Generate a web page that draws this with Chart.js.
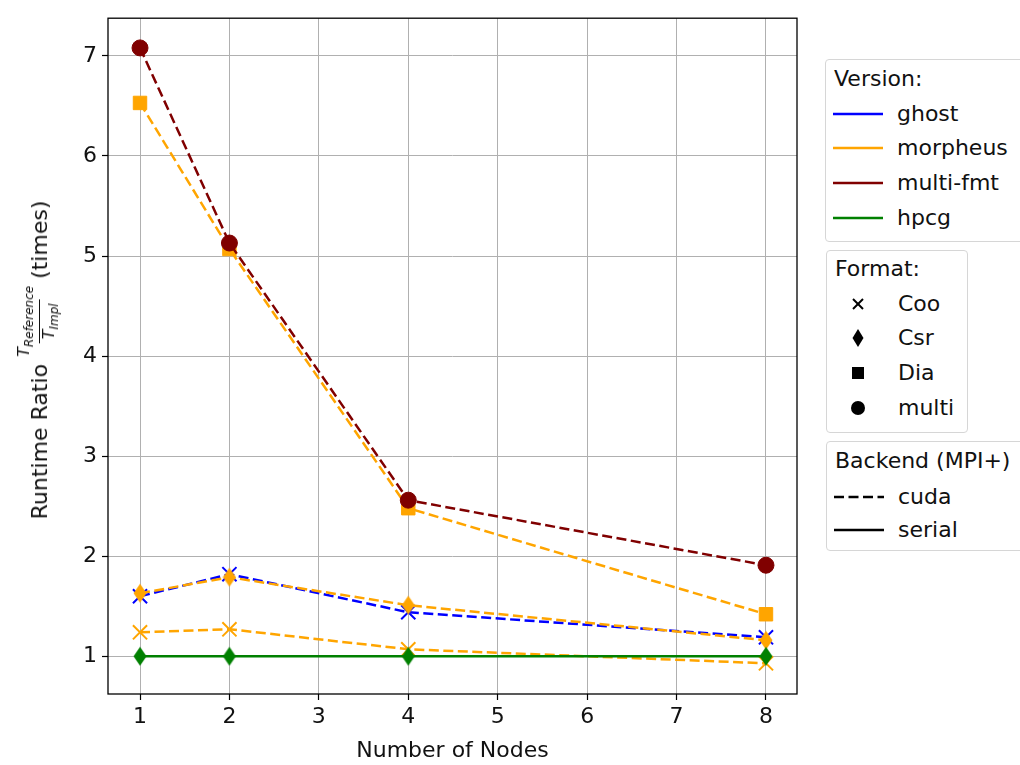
<!DOCTYPE html>
<html>
<head>
<meta charset="utf-8">
<script src="https://cdn.jsdelivr.net/npm/chart.js@4.4.1/dist/chart.umd.min.js"></script>
<style>
body { margin: 0; background: #fff; font-family: "DejaVu Sans", sans-serif; color: #111; }
#wrap { position: relative; width: 1020px; height: 765px; overflow: hidden; }
#chart { position: absolute; left: 0; top: 0; }
#ylabel {
    position: absolute; left: 39px; top: 360px;
    transform: translate(-50%, -50%) rotate(-90deg);
    display: flex; align-items: center; white-space: nowrap;
    font-size: 22px;
}
.frac { display: inline-flex; flex-direction: column; align-items: center; margin: 0 7px; font-style: italic; }
.frac .num { font-size: 16px; line-height: 16px; padding-bottom: 2px; }
.frac .den { font-size: 16px; line-height: 16px; padding-top: 1px; border-top: 1.3px solid #111; padding-left: 4px; padding-right: 4px; }
.frac sub { font-size: 12px; vertical-align: -4px; }
.box { position: absolute; border: 1px solid #d6d6d6; border-radius: 4px; background: #fff; }
.row { position: absolute; height: 26px; line-height: 26px; font-size: 22px; white-space: nowrap; }
.row svg { position: absolute; top: 0; }
</style>
</head>
<body>
<div id="wrap">
<canvas id="chart" width="1020" height="765"></canvas>
<div id="ylabel">Runtime Ratio<span class="frac"><span class="num">T<sub>Reference</sub></span><span class="den">T<sub>Impl</sub></span></span>(times)</div>
<div id="legends"></div>
</div>
<script>
const nodes = [1, 2, 4, 8];
const xTicks = [1, 2, 3, 4, 5, 6, 7, 8];
const yTicks = [1, 2, 3, 4, 5, 6, 7];

// version / backend / format
const ghostCudaCoo = [1.60, 1.82, 1.44, 1.19];
const morpheusCudaCoo = [1.24, 1.27, 1.07, 0.93];
const morpheusCudaCsr = [1.63, 1.79, 1.51, 1.16];
const morpheusCudaDia = [6.53, 5.07, 2.48, 1.42];
const multiFmtCudaMulti = [7.08, 5.13, 2.56, 1.91];
const hpcgSerialCsr = [1.00, 1.00, 1.00, 1.00];

const versionNames = ["ghost", "morpheus", "multi-fmt", "hpcg"];
const formatNames = ["Coo", "Csr", "Dia", "multi"];
const backendNames = ["cuda", "serial"];

const colors = { ghost: "#0000ff", morpheus: "#ffa500", "multi-fmt": "#800000", hpcg: "#008000" };
const DASH = [10, 4.5];
const LW = 2.5;

function diamond(color) {
    const c = document.createElement("canvas");
    c.width = 14; c.height = 20;
    const g = c.getContext("2d");
    g.fillStyle = color;
    g.beginPath();
    g.moveTo(7, 0.5); g.lineTo(13.5, 10); g.lineTo(7, 19.5); g.lineTo(0.5, 10);
    g.closePath();
    g.fill();
    return c;
}

function pts(vals) {
    return nodes.map((n, i) => ({ x: n, y: vals[i] }));
}

function series(label, vals, version, format, backend, order) {
    const col = colors[version];
    const ds = {
        label: label,
        data: pts(vals),
        borderColor: col,
        backgroundColor: col,
        borderWidth: LW,
        borderDash: backend === "cuda" ? DASH : [],
        pointBorderColor: col,
        pointBackgroundColor: col,
        pointBorderWidth: 1,
        tension: 0,
        order: order
    };
    if (format === "Coo") { ds.pointStyle = "crossRot"; ds.pointRadius = 10; ds.pointBorderWidth = 2; }
    if (format === "Csr") { ds.pointStyle = diamond(col); ds.pointRadius = 10; }
    if (format === "Dia") { ds.pointStyle = "rect"; ds.pointRadius = 9.5; }
    if (format === "multi") { ds.pointStyle = "circle"; ds.pointRadius = 8; }
    return ds;
}

const framePlugin = {
    id: "frame",
    afterDraw(chart) {
        const { ctx, chartArea: a } = chart;
        ctx.save();
        ctx.strokeStyle = "#000";
        ctx.lineWidth = 1.3;
        ctx.strokeRect(a.left, a.top, a.right - a.left, a.bottom - a.top);
        ctx.restore();
    }
};

const gridOpts = { color: "#b0b0b0", lineWidth: 1, tickColor: "#000", tickLength: 6, tickWidth: 1.2 };
const tickFont = { family: "DejaVu Sans", size: 22 };

new Chart(document.getElementById("chart").getContext("2d"), {
    type: "line",
    data: {
        datasets: [
            series("ghost cuda Coo", ghostCudaCoo, "ghost", "Coo", "cuda", 6),
            series("morpheus cuda Coo", morpheusCudaCoo, "morpheus", "Coo", "cuda", 5),
            series("morpheus cuda Csr", morpheusCudaCsr, "morpheus", "Csr", "cuda", 4),
            series("morpheus cuda Dia", morpheusCudaDia, "morpheus", "Dia", "cuda", 3),
            series("multi-fmt cuda multi", multiFmtCudaMulti, "multi-fmt", "multi", "cuda", 2),
            series("hpcg serial Csr", hpcgSerialCsr, "hpcg", "Csr", "serial", 1)
        ]
    },
    options: {
        responsive: false,
        animation: false,
        layout: { padding: { left: 0, right: 223, top: 14, bottom: 0 } },
        plugins: { legend: { display: false }, tooltip: { enabled: false } },
        scales: {
            x: {
                type: "linear",
                min: 0.642, max: 8.347,
                afterBuildTicks: s => { s.ticks = xTicks.map(v => ({ value: v })); },
                afterFit: s => { s.height = 71; },
                grid: gridOpts,
                border: { display: false },
                ticks: { font: tickFont, color: "#111", padding: 4, maxRotation: 0 },
                title: { display: true, text: "Number of Nodes", color: "#111",
                         font: tickFont, padding: { top: 0, bottom: 1 } }
            },
            y: {
                type: "linear",
                min: 0.623, max: 7.377,
                afterBuildTicks: s => { s.ticks = yTicks.map(v => ({ value: v })); },
                afterFit: s => { s.width = 108; },
                grid: gridOpts,
                border: { display: false },
                ticks: { font: tickFont, color: "#111", padding: 5 }
            }
        }
    },
    plugins: [framePlugin]
});

// legends (three boxes, like the reference)
function lineIcon(color, dashed) {
    const dash = dashed ? ' stroke-dasharray="' + DASH.join(",") + '"' : "";
    return '<svg width="50" height="26" style="left:7px"><line x1="0" y1="13" x2="50" y2="13" stroke="' +
        color + '" stroke-width="' + LW + '"' + dash + '/></svg>';
}

function markerIcon(format) {
    let s = "";
    if (format === "Coo") s = '<line x1="26" y1="8" x2="36" y2="18" stroke="#000" stroke-width="2"/><line x1="36" y1="8" x2="26" y2="18" stroke="#000" stroke-width="2"/>';
    if (format === "Csr") s = '<polygon points="31,4 36.5,13 31,22 25.5,13" fill="#000"/>';
    if (format === "Dia") s = '<rect x="25" y="7" width="12" height="12" fill="#000"/>';
    if (format === "multi") s = '<circle cx="31" cy="13" r="7" fill="#000"/>';
    return '<svg width="50" height="26" style="left:0px">' + s + '</svg>';
}

function makeBox(left, top, width, height, title, rows) {
    let html = '<div class="box" style="left:' + left + 'px;top:' + top + 'px;width:' + width + 'px;height:' + height + 'px">';
    html += '<div class="row" style="left:8px;top:' + (title.y - 13) + 'px">' + title.text + '</div>';
    rows.forEach(r => {
        html += '<div class="row" style="left:0;top:' + (r.y - 13) + 'px;width:100%">' + r.icon +
            '<span style="position:absolute;left:71px">' + r.text + '</span></div>';
    });
    return html + '</div>';
}

const rowY = [54, 88, 123, 158];
let legendHtml = "";
legendHtml += makeBox(825, 59, 210, 181, { text: "Version:", y: 19 },
    versionNames.map((v, i) => ({ text: v, y: rowY[i], icon: lineIcon(colors[v], false) })));
legendHtml += makeBox(826, 250, 140, 181, { text: "Format:", y: 18 },
    formatNames.map((f, i) => ({ text: f, y: rowY[i] - 1, icon: markerIcon(f) })));
legendHtml += makeBox(826, 441, 210, 108, { text: "Backend (MPI+)", y: 19 },
    backendNames.map((b, i) => ({ text: b, y: [55, 88][i], icon: lineIcon("#000", b === "cuda") })));
document.getElementById("legends").innerHTML = legendHtml;
</script>
</body>
</html>
